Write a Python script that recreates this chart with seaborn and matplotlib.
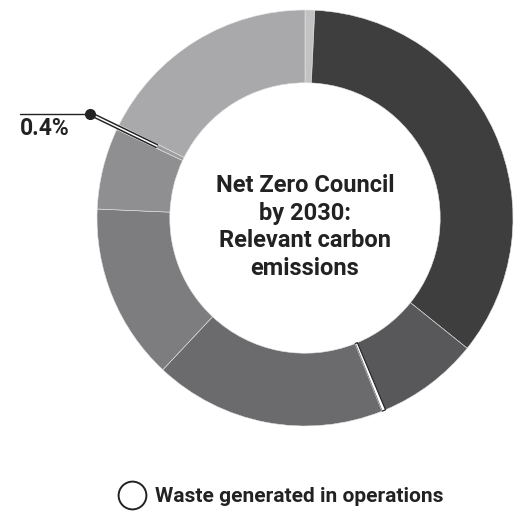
import numpy as np
import seaborn as sns
import matplotlib.pyplot as plt
import matplotlib.patheffects as pe
from matplotlib.lines import Line2D

# Data: share of relevant carbon emissions (%), clockwise from 12 o'clock
categories = ['Other', 'Purchased goods and services', 'Capital goods',
              'Waste generated in operations', 'Fuel- and energy-related activities',
              'Upstream transportation', 'Business travel', 'Employee commuting',
              'Buildings and fleet']
shares = [0.75, 35.0, 7.9, 0.3, 18.0, 13.7, 6.3, 0.4, 17.6]
colors = ['#c2c2c4', '#3e3e3e', '#58585b', '#ffffff', '#6b6b6e',
          '#7d7d80', '#8f8f91', '#9c9c9e', '#a9a9ab']
labelled = '0.4%'
labelled_idx = 7
legend_idx = 3

sns.set_theme(style='white')
plt.rcParams['font.family'] = ['Roboto', 'DejaVu Sans']

W, H = 523, 513
fig = plt.figure(figsize=(W / 100, H / 100), dpi=100)
ax = fig.add_axes([0, 0, 1, 1])

cx, cy, R = 305, H - 218, 208
wedges, _ = ax.pie(shares, colors=colors, startangle=90, counterclock=False,
                   center=(cx, cy), radius=R,
                   wedgeprops=dict(width=R * 0.35, edgecolor='#e6e6e6', linewidth=0.4))

# thin white slice gets a dark outline
wedges[legend_idx].set_edgecolor('#222222')
wedges[legend_idx].set_linewidth(0.9)

# leader line for the small slice
w = wedges[labelled_idx]
ang = np.deg2rad((w.theta1 + w.theta2) / 2)
r0, r1 = R * 0.79, R * 1.15
x0, y0 = cx + r0 * np.cos(ang), cy + r0 * np.sin(ang)
x1, y1 = cx + r1 * np.cos(ang), cy + r1 * np.sin(ang)
ax.plot([x0, x1], [y0, y1], color='white', lw=1.1, solid_capstyle='butt',
        path_effects=[pe.Stroke(linewidth=3.2, foreground='#222222'), pe.Normal()], zorder=5)
ax.plot([x1], [y1], 'o', color='#222222', markersize=7, zorder=6)
ax.plot([20, x1], [y1, y1], color='#222222', lw=1, zorder=4)
ax.text(20, y1 - 3, labelled, ha='left', va='top', fontsize=16.5,
        fontweight='bold', color='#222222')

# centre title
ax.text(cx, H - 227, 'Net Zero Council\nby 2030:\nRelevant carbon\nemissions',
        ha='center', va='center', fontsize=17, fontweight='bold',
        color='#222222', linespacing=1.25)

ax.set_xlim(0, W)
ax.set_ylim(0, H)
ax.set_aspect('auto')
ax.axis('off')

handle = Line2D([], [], marker='o', color='none', markerfacecolor='white',
                markeredgecolor='#222222', markeredgewidth=1.4, markersize=20)
fig.legend([handle], [categories[legend_idx]], loc='center',
           bbox_to_anchor=(277 / W, 1 - 497 / H), frameon=False,
           prop=dict(size=15, weight='bold'), handletextpad=0.1,
           labelcolor='#222222')

fig.savefig('out.png', dpi=100)
